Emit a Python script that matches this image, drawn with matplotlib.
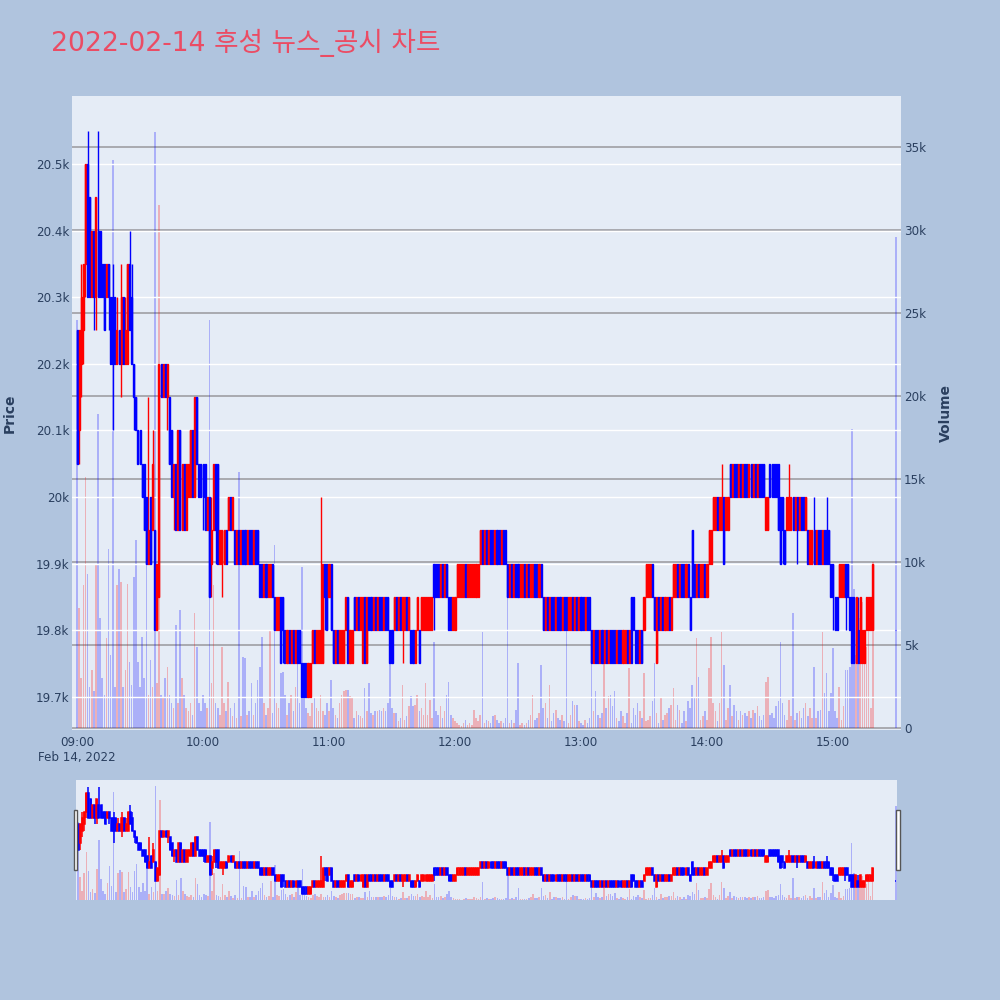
import numpy as np
import pandas as pd
import matplotlib
matplotlib.use("Agg")
import matplotlib.pyplot as plt
import matplotlib.dates as mdates
from matplotlib.patches import Rectangle

# ---------------- data ----------------
times = list(pd.date_range("2022-02-14 09:00", "2022-02-14 15:19", freq="min")) + [pd.Timestamp("2022-02-14 15:30")]

opens = [
    20250,20100,20200,20250,20350,20500,20450,20300,20400,20300,
    20400,20400,20350,20350,20300,20350,20300,20300,20300,20200,
    20250,20200,20300,20200,20200,20350,20300,20200,20150,20100,
    20100,20050,20050,20000,19900,20000,19950,19950,19800,19850,
    20200,20150,20200,20150,20150,20100,20000,20050,19950,20100,
    19950,20050,19950,20000,20000,20100,20000,20150,20050,20050,
    20050,20050,19950,20000,19900,19950,20050,20050,19900,19900,
    19900,19950,19950,20000,19950,19950,19900,19950,19900,19950,
    19950,19900,19950,19950,19900,19950,19950,19900,19900,19850,
    19900,19850,19850,19900,19850,19800,19800,19850,19850,19800,
    19750,19800,19750,19800,19750,19800,19800,19750,19750,19750,
    19700,19700,19750,19800,19750,19750,19750,19750,19900,19900,
    19850,19900,19800,19750,19800,19750,19750,19750,19800,19850,
    19750,19750,19850,19800,19850,19800,19750,19850,19750,19850,
    19850,19800,19850,19800,19850,19850,19800,19850,19850,19800,
    19800,19800,19850,19800,19850,19800,19800,19850,19800,19800,
    19800,19750,19800,19800,19800,19800,19800,19800,19800,19800,
    19900,19900,19900,19850,19900,19850,19900,19850,19850,19800,
    19800,19850,19850,19850,19850,19900,19850,19850,19850,19850,
    19850,19850,19900,19950,19900,19950,19900,19950,19950,19900,
    19950,19950,19900,19950,19950,19900,19850,19900,19850,19900,
    19900,19850,19850,19900,19850,19900,19850,19850,19900,19900,
    19850,19900,19850,19800,19850,19800,19850,19850,19800,19850,
    19850,19800,19850,19850,19800,19800,19850,19800,19850,19800,
    19850,19850,19800,19850,19850,19800,19750,19800,19800,19750,
    19800,19750,19800,19750,19800,19800,19800,19750,19800,19800,
    19750,19750,19800,19750,19850,19850,19800,19800,19750,19800,
    19800,19850,19850,19850,19900,19850,19750,19850,19800,19850,
    19800,19800,19850,19800,19850,19850,19900,19850,19900,19900,
    19850,19900,19850,19950,19900,19850,19900,19850,19850,19900,
    19850,19900,19900,19950,19950,20000,19950,19950,20000,19950,
    19950,20050,20000,20050,20050,20000,20050,20000,20050,20050,
    20000,20050,20000,20050,20000,20050,20050,20050,19950,19950,
    20050,20050,20050,20050,20050,20000,20000,19950,19950,19950,
    19950,20000,19950,20000,19950,20000,20000,19950,19950,19900,
    19900,19950,19900,19950,19950,19900,19950,19950,19950,19900,
    19900,19850,19850,19850,19850,19850,19900,19900,19850,19850,
    19850,19750,19800,19750,19750,19750,19800,19800,19800,19800,
    19800]

closes = [
    20050,20250,20300,20350,20500,20300,20300,20400,20300,20450,
    20300,20300,20300,20250,20350,20300,20200,20200,20200,20250,
    20200,20300,20200,20250,20350,20250,20200,20150,20100,20050,
    20050,20000,19950,19900,19950,19900,20050,19800,19900,20200,
    20150,20200,20150,20200,20050,20000,20050,19950,20100,19950,
    20050,19950,20050,20050,20100,20000,20150,20050,20000,20000,
    20000,19950,20000,19850,19950,20050,19950,19900,19950,19950,
    19950,19900,20000,19950,20000,19900,19950,19900,19950,19900,
    19900,19950,19900,19900,19950,19900,19900,19850,19850,19900,
    19850,19900,19900,19850,19800,19850,19850,19750,19800,19750,
    19800,19750,19800,19750,19800,19750,19750,19700,19700,19700,
    19750,19750,19800,19750,19800,19800,19800,19900,19850,19800,
    19900,19800,19750,19800,19750,19800,19800,19800,19850,19750,
    19800,19800,19800,19850,19800,19850,19850,19750,19850,19800,
    19800,19850,19800,19850,19800,19800,19850,19800,19800,19750,
    19750,19850,19800,19850,19800,19850,19850,19800,19850,19750,
    19750,19800,19850,19750,19850,19850,19850,19850,19850,19850,
    19850,19850,19850,19900,19850,19900,19850,19800,19800,19850,
    19850,19900,19900,19900,19900,19850,19900,19900,19900,19900,
    19900,19900,19950,19900,19950,19900,19950,19900,19900,19950,
    19900,19900,19950,19900,19900,19850,19900,19850,19900,19850,
    19850,19900,19900,19850,19900,19850,19900,19900,19850,19850,
    19900,19850,19800,19850,19800,19850,19800,19800,19850,19800,
    19800,19850,19800,19800,19850,19850,19800,19850,19800,19850,
    19800,19800,19850,19800,19800,19750,19800,19750,19750,19800,
    19750,19800,19750,19800,19750,19750,19750,19800,19750,19750,
    19800,19800,19750,19800,19750,19800,19750,19750,19800,19750,
    19850,19900,19900,19900,19850,19800,19850,19800,19850,19800,
    19850,19850,19800,19850,19900,19900,19850,19900,19850,19850,
    19900,19850,19800,19850,19850,19900,19850,19900,19900,19850,
    19900,19950,19950,20000,20000,19950,20000,20000,19900,20000,
    20000,20000,20050,20000,20000,20050,20000,20050,20000,20000,
    20050,20000,20050,20000,20050,20000,20000,20000,20000,20000,
    20000,20000,20000,20000,19950,19900,19950,19900,20000,20000,
    20000,19950,20000,19950,20000,19950,19950,20000,19900,19950,
    19950,19900,19950,19900,19900,19950,19900,19900,19900,19850,
    19850,19800,19800,19900,19900,19900,19850,19850,19800,19750,
    19750,19850,19750,19850,19800,19800,19850,19850,19850,19900,
    19800]

highs = [
    20250,20250,20350,20350,20500,20550,20450,20400,20400,20450,
    20550,20400,20350,20350,20350,20350,20300,20350,20300,20300,
    20250,20350,20300,20300,20350,20400,20350,20200,20150,20100,
    20100,20050,20050,20000,20150,20000,20100,19950,19900,20200,
    20200,20200,20200,20200,20150,20100,20050,20050,20100,20100,
    20050,20050,20050,20050,20100,20100,20150,20150,20050,20050,
    20050,20050,20000,20000,20000,20050,20050,20050,19950,19950,
    19950,19950,20000,20000,20000,19950,19950,19950,19950,19950,
    19950,19950,19950,19950,19950,19950,19950,19900,19900,19900,
    19900,19900,19900,19900,19850,19850,19850,19850,19850,19800,
    19800,19800,19800,19800,19800,19800,19800,19750,19750,19750,
    19750,19750,19800,19800,19800,19800,20000,19900,19900,19900,
    19900,19900,19800,19800,19800,19800,19800,19800,19850,19850,
    19800,19800,19850,19850,19850,19850,19850,19850,19850,19850,
    19850,19850,19850,19850,19850,19850,19850,19850,19850,19800,
    19800,19850,19850,19850,19850,19850,19850,19850,19850,19800,
    19800,19800,19850,19800,19850,19850,19850,19850,19850,19850,
    19900,19900,19900,19900,19900,19900,19900,19850,19850,19850,
    19850,19900,19900,19900,19900,19900,19900,19900,19900,19900,
    19900,19900,19950,19950,19950,19950,19950,19950,19950,19950,
    19950,19950,19950,19950,19950,19900,19900,19900,19900,19900,
    19900,19900,19900,19900,19900,19900,19900,19900,19900,19900,
    19900,19900,19850,19850,19850,19850,19850,19850,19850,19850,
    19850,19850,19850,19850,19850,19850,19850,19850,19850,19850,
    19850,19850,19850,19850,19850,19800,19800,19800,19800,19800,
    19800,19800,19800,19800,19800,19800,19800,19800,19800,19800,
    19800,19800,19800,19800,19850,19850,19800,19800,19800,19800,
    19850,19900,19900,19900,19900,19850,19850,19850,19850,19850,
    19850,19850,19850,19850,19900,19900,19900,19900,19900,19900,
    19900,19900,19850,19950,19900,19900,19900,19900,19900,19900,
    19900,19950,19950,20000,20000,20000,20000,20050,20000,20000,
    20000,20050,20050,20050,20050,20050,20050,20050,20050,20050,
    20050,20050,20050,20050,20050,20050,20050,20050,20000,20000,
    20050,20050,20050,20050,20050,20000,20000,19950,20000,20050,
    20000,20000,20000,20000,20000,20000,20000,20000,19950,19950,
    19950,20000,19950,19950,19950,19950,19950,20000,19950,19900,
    19900,19850,19850,19900,19900,19900,19900,19900,19850,19850,
    19850,19850,19850,19850,19800,19800,19850,19850,19850,19900,
    19800]

lows = [
    20050,20050,20150,20200,20300,20300,20300,20300,20250,20250,
    20300,20300,20300,20250,20300,20250,20200,20100,20200,20200,
    20200,20150,20200,20200,20200,20250,20200,20100,20100,20050,
    20050,20000,19950,19900,19900,19900,19950,19800,19800,19850,
    20150,20150,20150,20100,20050,20000,19950,19950,19950,19950,
    19950,19950,19950,20000,20000,20000,20000,20050,20000,20000,
    19950,19950,19950,19850,19850,19950,19900,19900,19900,19850,
    19900,19900,19950,19950,19950,19900,19900,19900,19900,19900,
    19900,19900,19900,19900,19900,19900,19900,19850,19850,19850,
    19850,19850,19850,19850,19800,19800,19800,19750,19750,19750,
    19750,19750,19750,19750,19750,19750,19750,19700,19700,19700,
    19700,19700,19750,19750,19750,19750,19750,19750,19800,19800,
    19850,19800,19750,19750,19750,19750,19750,19750,19800,19750,
    19750,19750,19800,19800,19800,19800,19750,19750,19750,19800,
    19800,19800,19800,19800,19800,19800,19800,19800,19800,19750,
    19750,19800,19800,19800,19800,19750,19800,19800,19800,19750,
    19750,19750,19800,19750,19800,19800,19800,19800,19800,19800,
    19800,19850,19850,19850,19850,19850,19850,19800,19800,19800,
    19800,19850,19850,19850,19850,19850,19850,19850,19850,19850,
    19850,19850,19900,19900,19900,19900,19900,19900,19900,19900,
    19900,19900,19900,19900,19900,19850,19850,19850,19850,19850,
    19850,19850,19850,19850,19850,19850,19850,19850,19850,19850,
    19850,19850,19800,19800,19800,19800,19800,19800,19800,19800,
    19800,19800,19800,19800,19800,19800,19800,19800,19800,19800,
    19800,19800,19800,19800,19800,19750,19750,19750,19750,19750,
    19750,19750,19750,19750,19750,19750,19750,19750,19750,19750,
    19750,19750,19750,19750,19750,19800,19750,19750,19750,19750,
    19800,19850,19850,19850,19850,19800,19750,19800,19800,19800,
    19800,19800,19800,19800,19850,19850,19850,19850,19850,19850,
    19850,19850,19800,19850,19850,19850,19850,19850,19850,19850,
    19850,19900,19900,19950,19950,19950,19950,19950,19900,19950,
    19950,20000,20000,20000,20000,20000,20000,20000,20000,20000,
    20000,20000,20000,20000,20000,20000,20000,20000,19950,19950,
    20000,20000,20000,20000,19950,19900,19900,19900,19950,19950,
    19950,19950,19950,19900,19950,19950,19950,19950,19900,19900,
    19900,19900,19900,19900,19900,19900,19900,19900,19900,19850,
    19800,19800,19800,19850,19850,19850,19800,19850,19800,19750,
    19750,19750,19750,19750,19750,19750,19800,19800,19800,19800,
    19800]

volumes = [
    24600, 7200, 3000, 8600,15100, 9300, 2500, 3500, 2200, 9900,
    18900, 6600, 3000, 2000, 5400,10800, 4400,34200, 2500, 8600,
     9600, 8800, 2500, 3500, 8700, 4000, 2600, 9100,11300, 4000,
     2500, 5500, 3000,11500, 2000, 4100, 2500,35900, 2700,31500,
     2000, 1800, 3000, 3700, 2000, 1500, 1200, 6200, 1500, 7100,
     3000, 2000, 1200, 1000, 1500,  800, 6900, 4900, 1500, 1000,
     2000, 1500, 1200,24600, 2700, 8600, 1500, 1200,  800, 4900,
     1500, 1000, 2800, 1200,  700, 1500,  600,15400,  700, 4300,
     4200,  800, 1000, 2700,  800, 1500, 2900, 3700, 5500, 1500,
      800, 1200, 5900,  900,11000, 1500, 1200, 3300, 3400, 2000,
      800, 1500, 2000, 1000, 2500, 4100, 1500, 9700, 1800, 1200,
      900,  700, 1500, 1800, 1200, 1000, 2000, 1000,  800, 1500,
     1000, 2900, 1200,  800,  600, 1500, 2000, 2200, 2300, 2300,
     1900, 1800,  600, 1000,  800,  700,  600, 2400, 1000, 2700,
      900,  800, 1000, 1000, 1100, 1000, 1200, 1000, 1500, 3900,
     1200,  900,  900,  400,  600, 2600,  500,  700, 1300, 1900,
     1300, 1400, 2000, 1000, 1200,  800, 2700,  800, 1700,  600,
     5200, 1000,  800, 1300,  600, 1000, 2000, 2800,  800,  600,
      400,  300,  200,  100,  300,  500,  200,  300,  200, 1100,
      600,  400,  800, 5800,  300,  500,  400,  300,  700,  800,
      500,  300,  400,  300,  600, 7900,  300,  500,  300, 1100,
     3900,  200,  300,  200,  300,  500,  800, 2000,  500,  600,
      900, 3800, 1200, 1500,  600, 2600,  400,  900, 1100,  600,
      500,  800,  400, 6800,  300,  800, 1600, 1400, 1400,  400,
      300,  200,  500,  300,  600, 3900, 1000, 2200,  800,  600,
      900, 3900, 1200, 1900, 2000, 1300, 2200,  600,  400, 1000,
      700,  300,  900, 3600,  300, 1200,  800, 1500, 1000,  600,
     3300,  400,  500,  700, 1600, 3900,  900,  300, 1800,  500,
      800,  900, 1200, 1400, 2400,  500, 1400, 1100,  300, 1000,
      400, 1600, 1200, 2600, 1800, 5400, 3100,  500,  700, 1000,
      500, 3600, 5500, 1500, 1000,  400, 1500, 5800, 3800,  500,
     1200, 2600,  700, 1400, 1000,  500, 1000,  800,  900,  700,
     1000,  600, 1100,  900, 1300,  700,  500,  800, 2800, 3100,
      800,  900,  600, 1300, 1600, 5200, 1500,  800,  500, 1700,
      700, 6900,  500,  900, 1000,  600, 1200, 1500,  700, 1200,
      600, 3700,  600, 1000, 1100, 5800, 2100, 3300, 1000, 2100,
     4800, 1000,  600, 2500,  500, 1300, 3500, 3500, 3700,18000,
     8400, 4400, 5200, 6600, 7600, 5800, 4900, 6900, 1200,10000,
    29600]

price_ticks = [19700, 19800, 19900, 20000, 20100, 20200, 20300, 20400, 20500]
price_labels = ["19.7k", "19.8k", "19.9k", "20k", "20.1k", "20.2k", "20.3k", "20.4k", "20.5k"]
vol_ticks = [0, 5000, 10000, 15000, 20000, 25000, 30000, 35000]
vol_labels = ["0", "5k", "10k", "15k", "20k", "25k", "30k", "35k"]
hour_ticks = ["2022-02-14 09:00", "2022-02-14 10:00", "2022-02-14 11:00", "2022-02-14 12:00",
              "2022-02-14 13:00", "2022-02-14 14:00", "2022-02-14 15:00"]
hour_labels = ["09:00", "10:00", "11:00", "12:00", "13:00", "14:00", "15:00"]
title = "2022-02-14 후성 뉴스_공시 차트"

# ---------------- style ----------------
UP = "#FF0000"
DOWN = "#0000FF"
FIG_BG = "#B0C4DE"
PLOT_BG = "#E5ECF6"
TXT = "#2a3f5f"
plt.rcParams['font.family'] = ['DejaVu Sans', 'Noto Sans CJK KR']

x = mdates.date2num(times)
o = np.array(opens, float); c = np.array(closes, float)
h = np.array(highs, float); l = np.array(lows, float)
v = np.array(volumes, float)
cols = np.where(c > o, UP, DOWN)
MIN = 1.0 / 1440.0


def draw(ax_price, ax_vol, lw):
    ax_vol.bar(x, v, width=0.75 * MIN, color=cols, alpha=0.25, linewidth=0)
    ax_price.vlines(x, l, h, colors=cols, linewidth=lw, zorder=3)
    ax_price.bar(x, np.abs(c - o), bottom=np.minimum(o, c), width=0.5 * MIN,
                 color=cols, edgecolor=cols, linewidth=lw, zorder=4)


fig = plt.figure(figsize=(10, 10), dpi=100, facecolor=FIG_BG)

# main plot
ax_v = fig.add_axes([0.072, 0.270, 0.829, 0.634], facecolor=PLOT_BG)
ax_p = ax_v.twinx()
ax_p.yaxis.tick_left()
ax_v.yaxis.tick_right()
draw(ax_p, ax_v, 1.0)

pad = pd.Timedelta(minutes=2.4)
ax_v.set_xlim(mdates.date2num(times[0] - pad), mdates.date2num(times[-1] + pad))
ax_p.set_ylim(19650, 20602)
ax_v.set_ylim(-120, 38070)

ax_p.set_yticks(price_ticks)
ax_p.set_yticklabels(price_labels)
ax_v.set_yticks(vol_ticks)
ax_v.set_yticklabels(vol_labels)
ax_v.set_xticks(mdates.date2num(pd.to_datetime(hour_ticks)))
ax_v.set_xticklabels(hour_labels)

for a in (ax_p, ax_v):
    for s in a.spines.values():
        s.set_visible(False)
    a.tick_params(length=0, colors=TXT, labelsize=8.6)
ax_p.tick_params(axis='y', pad=2)
ax_v.tick_params(axis='y', pad=2)
ax_v.tick_params(axis='x', pad=4)

ax_v.set_axisbelow(True)
ax_v.grid(axis='y', color='#a4a4aa', linewidth=1.3)
ax_v.grid(axis='x', visible=False)
ax_p.set_axisbelow(True)
ax_p.grid(axis='y', color='white', linewidth=1.0, zorder=0)

fig.text(0.077, 1 - 0.757, "Feb 14, 2022", ha='center', va='center', color=TXT, fontsize=8.6)
fig.text(0.010, 0.587, "Price", rotation=90, ha='center', va='center', color=TXT,
         fontsize=10, fontweight='bold')
fig.text(0.946, 0.587, "Volume", rotation=90, ha='center', va='center', color=TXT,
         fontsize=10, fontweight='bold')
fig.text(0.051, 1 - 0.051, title, ha='left', va='baseline', color='#EB4C64', fontsize=19.2)

# range slider
ax_sv = fig.add_axes([0.0763, 0.100, 0.8211, 0.120], facecolor=PLOT_BG)
ax_sp = ax_sv.twinx()
draw(ax_sp, ax_sv, 1.1)
spad = pd.Timedelta(minutes=0.8)
ax_sv.set_xlim(mdates.date2num(times[0] - spad), mdates.date2num(times[-1] + spad))
ax_sp.set_ylim(19650, 20602)
ax_sv.set_ylim(0, 37900)
for a in (ax_sv, ax_sp):
    a.set_xticks([]); a.set_yticks([])
    for s in a.spines.values():
        s.set_visible(False)

for (hx, hw) in ((0.0735, 0.0038), (0.8955, 0.0042)):
    fig.patches.append(Rectangle((hx, 0.130), hw, 0.060, transform=fig.transFigure,
                                 facecolor='white', edgecolor='#555555', linewidth=1.0, zorder=10))

fig.savefig("out.png", dpi=100, facecolor=FIG_BG)
